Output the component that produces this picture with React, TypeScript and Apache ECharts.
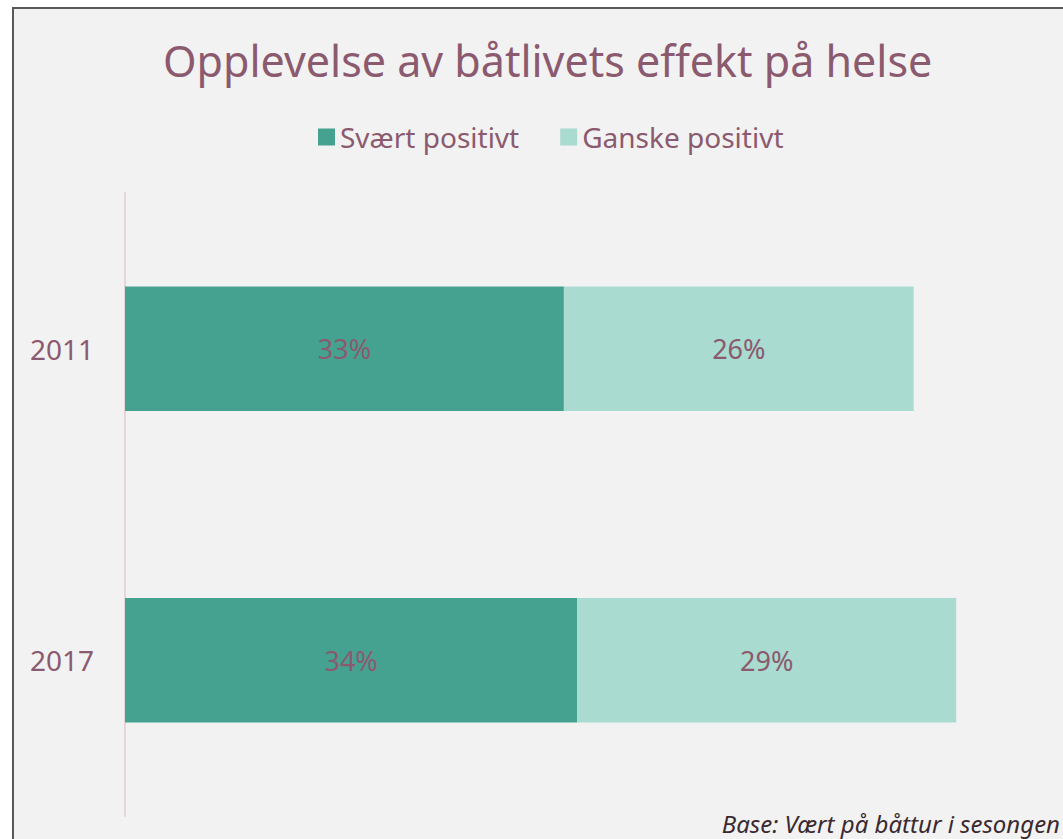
import React, { useEffect, useRef } from "react";
import * as echarts from "echarts";

const categories = ["2011", "2017"];
const seriesNames = ["Svært positivt", "Ganske positivt"];
const svaertPositivt = [33.0, 34.0];
const ganskePositivt = [26.3, 28.5];
const titleText = "Opplevelse av båtlivets effekt på helse";
const footnote = "Base: Vært på båttur i sesongen";

const MAUVE = "#8b5a6e";
const DARK = "#45a290";
const LIGHT = "#a9dbd0";
const FONT = "'Noto Sans', sans-serif";

export default function App() {
  const ref = useRef<HTMLDivElement>(null);
  useEffect(() => {
    if (!ref.current) return;
    const chart = echarts.init(ref.current, undefined, { renderer: "svg" });
    chart.setOption({
      animation: false,
      backgroundColor: "#ffffff",
      textStyle: { fontFamily: FONT },
      title: {
        text: titleText,
        left: 158,
        top: 34,
        textStyle: { color: MAUVE, fontSize: 43, fontWeight: "normal", fontFamily: FONT },
      },
      legend: {
        data: seriesNames,
        left: 313,
        top: 118,
        itemWidth: 17,
        itemHeight: 17,
        itemGap: 41,
        icon: "rect",
        textStyle: { color: MAUVE, fontSize: 28, fontFamily: FONT },
      },
      graphic: [
        {
          type: "rect",
          z: -10,
          silent: true,
          shape: { x: 13, y: 8, width: 1100, height: 900 },
          style: { fill: "#f2f2f2", stroke: "#595959", lineWidth: 2 },
        },
        {
          type: "text",
          right: 3,
          bottom: 4,
          style: {
            text: footnote,
            fill: "#3a2a30",
            font: `italic 24px ${FONT}`,
          },
        },
      ],
      grid: { left: 125, right: 7, top: 193, bottom: 23, containLabel: false },
      xAxis: {
        type: "value",
        min: 0,
        max: 70,
        show: false,
      },
      yAxis: {
        type: "category",
        data: categories,
        inverse: true,
        axisLine: { show: true, lineStyle: { color: "#e6d6dc", width: 2 } },
        axisTick: { show: false },
        axisLabel: { color: MAUVE, fontSize: 28, margin: 31, fontFamily: FONT },
      },
      series: [
        {
          name: seriesNames[0],
          type: "bar",
          stack: "total",
          data: svaertPositivt,
          barCategoryGap: "60%",
          itemStyle: { color: DARK },
          label: {
            show: true,
            position: "inside",
            color: MAUVE,
            fontSize: 27,
            fontFamily: FONT,
            formatter: (p: any) => Math.round(p.value) + "%",
          },
        },
        {
          name: seriesNames[1],
          type: "bar",
          stack: "total",
          data: ganskePositivt,
          barCategoryGap: "60%",
          itemStyle: { color: LIGHT },
          label: {
            show: true,
            position: "inside",
            color: MAUVE,
            fontSize: 27,
            fontFamily: FONT,
            formatter: (p: any) => Math.round(p.value) + "%",
          },
        },
      ],
    });
    return () => chart.dispose();
  }, []);
  return (
    <div
      ref={ref}
      style={{ position: "fixed", left: 0, top: 0, width: 1063, height: 839 }}
    />
  );
}
